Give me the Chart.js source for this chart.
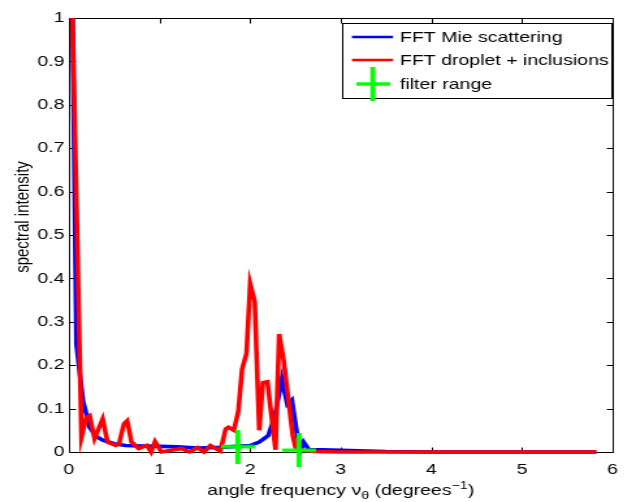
<!DOCTYPE html>
<html>
<head>
<meta charset="utf-8">
<script src="https://cdn.jsdelivr.net/npm/chart.js@4.4.1/dist/chart.umd.min.js"></script>
<style>
  html, body { margin: 0; padding: 0; background: #fff; }
</style>
</head>
<body>
<!-- the figure is drawn 489 wide and stretched sideways, like the original -->
<canvas id="chart" width="489" height="502" style="display:block;width:636px;height:502px"></canvas>
<script>
// values
const mieFreq = [0.04, 0.083, 0.155, 0.228, 0.30, 0.372, 0.5, 0.625, 0.8, 1.0, 1.2, 1.42, 1.69, 1.85, 2.0, 2.1, 2.2, 2.27, 2.35, 2.41, 2.46, 2.52, 2.56, 2.59, 2.65, 2.8, 3.0, 3.2, 3.5, 4.0, 5.0, 5.82];
const mieVal = [1.0, 0.248, 0.118, 0.057, 0.036, 0.027, 0.019, 0.015, 0.014, 0.013, 0.012, 0.009, 0.011, 0.013, 0.015, 0.023, 0.038, 0.08, 0.168, 0.11, 0.12, 0.038, 0.005, 0.023, 0.005, 0.005, 0.004, 0.003, 0.001, 0, 0, 0];

const dropFreq = [0.04, 0.138, 0.192, 0.228, 0.282, 0.372, 0.426, 0.516, 0.553, 0.607, 0.643, 0.69, 0.769, 0.86, 0.907, 0.95, 1.02, 1.13, 1.24, 1.33, 1.42, 1.49, 1.56, 1.67, 1.73, 1.76, 1.82, 1.87, 1.91, 1.96, 2.0, 2.05, 2.10, 2.14, 2.19, 2.28, 2.32, 2.37, 2.47, 2.50, 2.58, 2.7, 3.0, 4.0, 5.0, 5.82];
const dropVal = [1.0, 0.034, 0.080, 0.084, 0.031, 0.076, 0.023, 0.015, 0.019, 0.065, 0.072, 0.023, 0.008, 0.015, 0.0, 0.024, 0.0, 0.004, 0.008, 0.0, 0.01, 0.0, 0.015, 0.002, 0.053, 0.057, 0.05, 0.095, 0.19, 0.228, 0.388, 0.347, 0.05, 0.16, 0.162, 0.005, 0.272, 0.21, 0.038, 0.011, 0.004, 0.001, 0, 0, 0, 0];

const filterFreq = [1.863, 2.538];
const filterVal = [0.0125, 0.004];

const seriesNames = ['FFT Mie scattering', 'FFT droplet + inclusions', 'filter range'];

const xTicks = [0, 1, 2, 3, 4, 5, 6];
const yTicks = [0, 0.1, 0.2, 0.3, 0.4, 0.5, 0.6, 0.7, 0.8, 0.9, 1];
const yTickLabels = ['0', '0.1', '0.2', '0.3', '0.4', '0.5', '0.6', '0.7', '0.8', '0.9', '1'];

const BLUE = '#0000ff';
const RED = '#ff0000';
const GREEN = '#00ff00';
const FONT = '"Liberation Sans", Arial, Helvetica, sans-serif';

const toPoints = (xs, ys) => xs.map((v, i) => ({ x: v, y: ys[i] }));

// plus marker, a bit taller than wide once the canvas is stretched back
function plusMarker() {
  const c = document.createElement('canvas');
  c.width = 26;
  c.height = 34;
  const g = c.getContext('2d');
  g.fillStyle = GREEN;
  g.fillRect(0, 15.3, 26, 3.4);
  g.fillRect(11.1, 0, 3.8, 34);
  return c;
}
const plus = plusMarker();

const frame = {
  id: 'frame',
  beforeDatasetsDraw(chart) {
    const { ctx, chartArea: a, scales: { x, y } } = chart;
    const L = Math.round(a.left) + 0.5, R = Math.round(a.right) + 0.5;
    const T = Math.round(a.top) + 0.5, B = Math.round(a.bottom) + 0.5;
    ctx.save();
    ctx.strokeStyle = '#000';
    ctx.lineWidth = 1;
    ctx.beginPath();
    ctx.rect(L, T, R - L, B - T);
    xTicks.forEach(v => {
      const p = Math.round(x.getPixelForValue(v)) + 0.5;
      ctx.moveTo(p, B); ctx.lineTo(p, B - 5);
      ctx.moveTo(p, T); ctx.lineTo(p, T + 5);
    });
    yTicks.forEach(v => {
      const p = Math.round(y.getPixelForValue(v)) + 0.5;
      ctx.moveTo(L, p); ctx.lineTo(L + 5, p);
      ctx.moveTo(R, p); ctx.lineTo(R - 5, p);
    });
    ctx.stroke();
    ctx.restore();
  },
  afterDraw(chart) {
    const { ctx, chartArea: a } = chart;
    ctx.save();
    ctx.fillStyle = '#000';

    // y title
    ctx.font = '15px ' + FONT;
    ctx.textAlign = 'center';
    ctx.textBaseline = 'middle';
    ctx.save();
    ctx.translate(18, 217);
    ctx.rotate(-Math.PI / 2);
    ctx.fillText('spectral intensity', 0, 0);
    ctx.restore();

    // x title with subscript and superscript
    const parts = [
      ['angle frequency \u03bd', 15, 0],
      ['\u03b8', 11, 4],
      [' (degrees', 15, 0],
      ['\u22121', 11, -6],
      [')', 15, 0]
    ];
    ctx.textAlign = 'left';
    ctx.textBaseline = 'alphabetic';
    let total = 0;
    parts.forEach(p => { ctx.font = p[1] + 'px ' + FONT; total += ctx.measureText(p[0]).width; });
    let px = (a.left + a.right) / 2 - total / 2;
    parts.forEach(p => {
      ctx.font = p[1] + 'px ' + FONT;
      ctx.fillText(p[0], px, 495 + p[2]);
      px += ctx.measureText(p[0]).width;
    });

    // legend
    const bx = 263.5, by = 23.5, bw = 207, bh = 75;
    ctx.fillStyle = '#fff';
    ctx.fillRect(bx, by, bw, bh);
    ctx.strokeStyle = '#000';
    ctx.lineWidth = 1;
    ctx.strokeRect(bx, by, bw, bh);
    const rows = [37, 60, 84];
    ctx.lineWidth = 2.6;
    [BLUE, RED].forEach((col, i) => {
      ctx.strokeStyle = col;
      ctx.beginPath();
      ctx.moveTo(270.6, rows[i]);
      ctx.lineTo(302.2, rows[i]);
      ctx.stroke();
    });
    ctx.drawImage(plus, 286.6 - plus.width / 2, rows[2] - plus.height / 2);
    ctx.fillStyle = '#000';
    ctx.font = '15px ' + FONT;
    ctx.textBaseline = 'middle';
    seriesNames.forEach((name, i) => ctx.fillText(name, 307.5, rows[i] + 0.5));
    ctx.restore();
  }
};

new Chart(document.getElementById('chart'), {
  type: 'line',
  data: {
    datasets: [
      {
        label: seriesNames[2],
        data: toPoints(filterFreq, filterVal),
        showLine: false,
        pointStyle: plus,
        pointRadius: 17,
        clip: false,
        order: 1
      },
      {
        label: seriesNames[1],
        data: toPoints(dropFreq, dropVal),
        borderColor: RED,
        borderWidth: 3.6,
        pointRadius: 0,
        tension: 0,
        clip: false,
        order: 2
      },
      {
        label: seriesNames[0],
        data: toPoints(mieFreq, mieVal),
        borderColor: BLUE,
        borderWidth: 3.6,
        pointRadius: 0,
        tension: 0,
        clip: false,
        order: 3
      }
    ]
  },
  options: {
    responsive: false,
    animation: false,
    events: [],
    layout: { padding: { top: 14, right: 10, left: 0, bottom: 0 } },
    plugins: { legend: { display: false }, tooltip: { enabled: false } },
    scales: {
      x: {
        type: 'linear',
        min: 0,
        max: 6,
        afterBuildTicks: s => { s.ticks = xTicks.map(v => ({ value: v })); },
        afterFit: s => { s.height = 50; },
        grid: { display: false, drawTicks: false },
        border: { display: false },
        ticks: {
          color: '#000',
          font: { family: FONT, size: 15 },
          padding: 8.5,
          maxRotation: 0,
          autoSkip: false,
          callback: v => String(v)
        }
      },
      y: {
        type: 'linear',
        min: 0,
        max: 1,
        afterBuildTicks: s => { s.ticks = yTicks.map(v => ({ value: v })); },
        afterFit: s => { s.width = 53; },
        grid: { display: false, drawTicks: false },
        border: { display: false },
        ticks: {
          color: '#000',
          font: { family: FONT, size: 15 },
          padding: 3.4,
          autoSkip: false,
          callback: (v, i) => yTickLabels[i]
        }
      }
    }
  },
  plugins: [frame]
});
</script>
</body>
</html>
